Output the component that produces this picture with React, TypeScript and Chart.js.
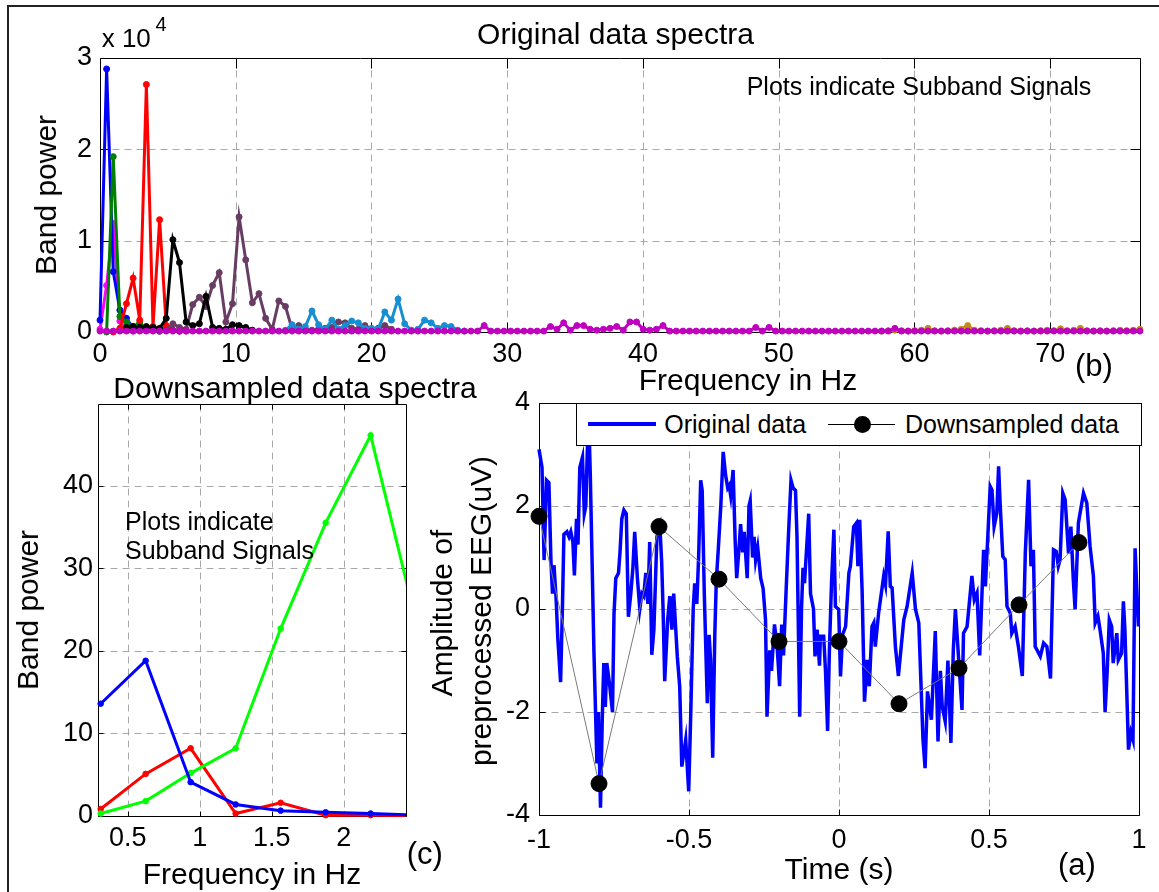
import React, { useEffect, useRef } from "react";
import { Chart, registerables } from "chart.js";

Chart.register(...registerables);

const FONT = "'Liberation Sans', Arial, Helvetica, sans-serif";
const PAGE_W = 1159;
const PAGE_H = 892;
const GRID_COLOR = "#a8a8a8";

// ---------------- (b) Original data spectra ----------------
const SPEC_BIN_HZ = 0.488;
const SPEC_BIN_COUNT = 158;
const SPEC_FREQ_HZ = Array.from({ length: SPEC_BIN_COUNT }, (_, k) => Math.round(k * SPEC_BIN_HZ * 1000) / 1000);
const SPEC_X_MAX = 76.62;
const SPEC_X_TICKS = [0, 10, 20, 30, 40, 50, 60, 70];
const SPEC_X_LABELS = ["0", "10", "20", "30", "40", "50", "60", "70"];
const SPEC_Y_MAX = 3;
const SPEC_Y_TICKS = [0, 1, 2, 3];
const SPEC_Y_LABELS = ["0", "1", "2", "3"];

// band power in units of 10^4, one value per frequency bin starting at the given bin index
const SUB_PINK_START = 0;
const SUB_PINK = [0.03, 0.51, 1.19, 0.12, 0.02, 0.01];
const SUB_BLUE_START = 0;
const SUB_BLUE = [0.13, 2.88, 0.66, 0.24, 0.15, 0.04, 0.03, 0.02, 0.02, 0.01, 0.03, 0.02, 0.01];
const SUB_GREEN_START = 1;
const SUB_GREEN = [0.0, 1.92, 0.17, 0.11, 0.06, 0.1, 0.03, 0.02, 0.01];
const SUB_RED_START = 2;
const SUB_RED = [0.0, 0.04, 0.31, 0.59, 0.13, 2.71, 0.06, 1.23, 0.07, 0.02, 0.01, 0.01];
const SUB_BLACK_START = 4;
const SUB_BLACK = [0.05, 0.06, 0.05, 0.06, 0.05, 0.04, 0.15, 1.01, 0.76, 0.11, 0.07, 0.09, 0.39, 0.05, 0.04, 0.03, 0.08, 0.07, 0.05, 0.02];
const SUB_PURPLE_START = 10;
const SUB_PURPLE = [
  0.02, 0.09, 0.05, 0.03, 0.3, 0.38, 0.28, 0.51, 0.65, 0.11,
  0.31, 1.26, 0.79, 0.32, 0.42, 0.15, 0.03, 0.34, 0.28, 0.03,
  0.07, 0.03, 0.02, 0.03, 0.04, 0.05, 0.11, 0.1, 0.04, 0.03,
  0.07, 0.03, 0.04, 0.07, 0.03,
];
const SUB_LIGHTBLUE_START = 28;
const SUB_LIGHTBLUE = [
  0.02, 0.08, 0.03, 0.06, 0.23, 0.08, 0.03, 0.13, 0.03, 0.07,
  0.12, 0.1, 0.04, 0.04, 0.03, 0.22, 0.13, 0.36, 0.09, 0.02,
  0.03, 0.13, 0.1, 0.04, 0.07, 0.06, 0.02, 0.01,
];
const SUB_ORANGE_START = 118;
const SUB_ORANGE = [
  0.01, 0.015, 0.02, 0.015, 0.01, 0.015, 0.02, 0.04, 0.015, 0.01,
  0.015, 0.02, 0.03, 0.07, 0.02, 0.015, 0.01, 0.015, 0.02, 0.04,
  0.015, 0.01, 0.015, 0.01, 0.015, 0.02, 0.015, 0.035, 0.015, 0.02,
  0.04, 0.015, 0.01, 0.015, 0.01, 0.015, 0.02, 0.015, 0.02, 0.03,
];
const SUB_MAGENTA_START = 0;
const SUB_MAGENTA = [
  0.01, 0.01, 0.01, 0.01, 0.01, 0.01, 0.01, 0.01, 0.01, 0.01, 0.01, 0.01, 0.01, 0.01, 0.01, 0.01, 0.01, 0.01, 0.01, 0.01,
  0.01, 0.01, 0.01, 0.01, 0.01, 0.01, 0.01, 0.01, 0.01, 0.01, 0.01, 0.01, 0.01, 0.01, 0.01, 0.01, 0.01, 0.01, 0.01, 0.01,
  0.01, 0.01, 0.01, 0.01, 0.01, 0.01, 0.01, 0.01, 0.01, 0.01, 0.01, 0.01, 0.01, 0.01, 0.01, 0.01, 0.01, 0.01, 0.07, 0.01,
  0.01, 0.01, 0.01, 0.01, 0.01, 0.01, 0.01, 0.01, 0.06, 0.03, 0.1, 0.02, 0.07, 0.07, 0.03, 0.02, 0.03, 0.04, 0.06, 0.02,
  0.11, 0.11, 0.03, 0.02, 0.03, 0.07, 0.01, 0.01, 0.01, 0.01, 0.01, 0.01, 0.01, 0.01, 0.01, 0.01, 0.01, 0.01, 0.01, 0.05,
  0.01, 0.05, 0.01, 0.01, 0.01, 0.01, 0.01, 0.01, 0.01, 0.01, 0.01, 0.01, 0.01, 0.01, 0.01, 0.01, 0.01, 0.01, 0.01, 0.01,
  0.04, 0.01, 0.01, 0.01, 0.01, 0.01, 0.01, 0.01, 0.01, 0.01, 0.01, 0.01, 0.01, 0.01, 0.01, 0.01, 0.01, 0.01, 0.01, 0.01,
  0.01, 0.01, 0.01, 0.01, 0.01, 0.01, 0.01, 0.01, 0.01, 0.01, 0.01, 0.01, 0.01, 0.01, 0.01, 0.01, 0.01, 0.01,
];

// ---------------- (c) Downsampled data spectra ----------------
const DS_FREQ_HZ = [0.3125, 0.625, 0.9375, 1.25, 1.5625, 1.875, 2.1875, 2.5];
const DS_BLUE = [13.6, 18.8, 4.1, 1.4, 0.65, 0.45, 0.3, 0.1];
const DS_GREEN = [0.3, 1.8, 5.2, 8.2, 22.7, 35.5, 46.1, 23.8];
const DS_RED = [0.85, 5.1, 8.2, 0.3, 1.6, 0.1, 0.1, 0.05];
const DS_X_MIN = 0.294;
const DS_X_MAX = 2.433;
const DS_X_TICKS = [0.5, 1, 1.5, 2];
const DS_X_LABELS = ["0.5", "1", "1.5", "2"];
const DS_Y_MAX = 49.9;
const DS_Y_TICKS = [0, 10, 20, 30, 40];
const DS_Y_LABELS = ["0", "10", "20", "30", "40"];

// ---------------- (a) time domain ----------------
const ORIG_TIME_S = [
  -1.0, -0.99, -0.983, -0.975, -0.967, -0.96, -0.955, -0.95, -0.943, -0.937,
  -0.928, -0.922, -0.917, -0.907, -0.9, -0.894, -0.887, -0.882, -0.875, -0.87,
  -0.864, -0.855, -0.849, -0.844, -0.835, -0.829, -0.824, -0.817, -0.812, -0.807,
  -0.802, -0.795, -0.789, -0.784, -0.779, -0.774, -0.764, -0.755, -0.75, -0.744,
  -0.735, -0.73, -0.724, -0.717, -0.709, -0.702, -0.694, -0.687, -0.681, -0.672,
  -0.664, -0.657, -0.651, -0.644, -0.637, -0.631, -0.624, -0.617, -0.607, -0.597,
  -0.591, -0.586, -0.581, -0.571, -0.564, -0.557, -0.551, -0.539, -0.531, -0.524,
  -0.511, -0.501, -0.494, -0.486, -0.481, -0.474, -0.468, -0.461, -0.456, -0.449,
  -0.439, -0.433, -0.428, -0.421, -0.414, -0.409, -0.403, -0.394, -0.386, -0.378,
  -0.371, -0.366, -0.361, -0.353, -0.346, -0.341, -0.333, -0.328, -0.321, -0.316,
  -0.306, -0.3, -0.296, -0.288, -0.283, -0.278, -0.271, -0.261, -0.253, -0.245,
  -0.24, -0.231, -0.225, -0.215, -0.206, -0.198, -0.191, -0.185, -0.176, -0.168,
  -0.16, -0.153, -0.145, -0.14, -0.131, -0.125, -0.12, -0.115, -0.101, -0.095,
  -0.085, -0.08, -0.073, -0.065, -0.062, -0.051, -0.045, -0.038, -0.032, -0.025,
  -0.017, -0.012, -0.001, 0.005, 0.012, 0.022, 0.033, 0.038, 0.049, 0.058,
  0.063, 0.069, 0.077, 0.085, 0.094, 0.101, 0.11, 0.116, 0.121, 0.132,
  0.149, 0.155, 0.164, 0.171, 0.177, 0.188, 0.198, 0.216, 0.227, 0.244,
  0.255, 0.266, 0.28, 0.287, 0.295, 0.308, 0.321, 0.33, 0.338, 0.344,
  0.354, 0.363, 0.373, 0.381, 0.388, 0.398, 0.41, 0.415, 0.427, 0.443,
  0.451, 0.46, 0.469, 0.482, 0.488, 0.504, 0.51, 0.517, 0.526, 0.532,
  0.537, 0.546, 0.554, 0.56, 0.571, 0.576, 0.587, 0.598, 0.611, 0.621,
  0.632, 0.64, 0.648, 0.654, 0.671, 0.682, 0.693, 0.705, 0.715, 0.724,
  0.731, 0.737, 0.746, 0.754, 0.765, 0.773, 0.781, 0.787, 0.798, 0.815,
  0.826, 0.837, 0.848, 0.854, 0.863, 0.87, 0.881, 0.887, 0.894, 0.901,
  0.909, 0.914, 0.926, 0.931, 0.942, 0.948, 0.953, 0.965, 0.973, 0.98,
  0.987, 0.998,
];
const ORIG_AMP_UV = [
  3.1, 2.75, 0.95, 2.5, 2.45, 0.9, 0.3, 0.85, 0.2, -0.6,
  -1.42, 0.0, 1.45, 1.5, 1.4, 1.5, 1.3, 0.65, 1.75, 1.25,
  2.75, 2.95, 1.85, 2.0, 3.9, 2.6, 1.2, -0.8, -1.9, -3.0,
  -2.0, -3.86, -2.1, -1.05, -1.9, -1.05, -1.5, -2.0, -0.1, 0.6,
  0.7, 1.1, 1.75, 1.92, 1.85, -0.15, 0.3, 0.8, 1.5, 0.6,
  0.0, 0.3, 0.25, 0.7, 0.1, 1.3, -0.89, -0.4, 1.4, 1.6,
  0.9, -0.1, -1.4, -0.2, 0.25, -0.4, 0.3, -0.92, -1.5, -3.06,
  -2.54, -3.54, -2.0, 0.0, 0.5, 0.1, 1.0, 2.5, 2.3, 0.3,
  -1.83, -0.5, -1.0, -2.89, -0.5, 0.55, 1.1, 2.0, 3.05, 2.6,
  2.35, 2.4, 2.2, 2.7, 1.3, 0.6, 1.2, 1.65, 1.1, 1.5,
  0.6, 2.0, 2.1, 1.0, 1.4, 0.95, 1.2, 0.6, 0.4, -0.2,
  -2.09, -0.8, -1.2, -0.3, -0.75, -1.5, -0.3, -0.9, 0.4, 1.5,
  2.5, 2.35, 2.3, 1.4, -2.09, 0.0, 0.8, 0.5, 1.85, 0.3,
  0.0, -0.92, -0.4, -1.1, -0.53, -0.53, -1.2, -2.37, -0.8, 0.5,
  1.54, 0.05, -0.01, -1.31, -0.5, -0.34, 0.7, 0.83, 1.6, 1.67,
  0.83, 1.73, 0.37, -1.8, -0.99, -1.5, -0.34, -0.27, -0.73, -0.08,
  0.64, 0.47, 1.51, 0.44, 0.41, -0.73, -1.3, -0.21, 0.05, 0.7,
  -0.01, -0.27, -2.54, -3.09, -1.6, -2.15, -0.43, -2.57, -1.2, -1.89,
  -2.18, -1.0, -2.6, -0.8, 0.0, -0.9, -1.96, -0.47, -0.34, 0.64,
  0.18, 0.31, -0.9, 1.15, 0.44, 2.38, 2.31, 1.6, 1.86, 2.77,
  2.06, 1.02, 0.96, 0.05, -0.08, -0.47, -0.34, -0.73, -1.3, 1.08,
  2.51, 0.83, 1.15, -0.73, -0.92, -0.66, -0.73, -1.35, 1.15, 1.12,
  0.83, 0.96, 2.25, 2.12, 1.08, 1.6, 0.57, -0.01, 1.67, 2.25,
  2.06, 1.21, 0.64, -0.27, -0.14, -0.4, -0.86, -2.0, -1.2, -0.21,
  -0.34, -1.05, -0.47, -0.99, -0.86, 0.15, -0.4, -2.73, -2.4, -2.54,
  1.18, -0.34,
];
const DOWN_TIME_S = [-1, -0.8, -0.6, -0.4, -0.2, 0, 0.2, 0.4, 0.6, 0.8];
const DOWN_AMP_UV = [1.8, -3.39, 1.6, 0.58, -0.63, -0.63, -1.84, -1.15, 0.08, 1.29];
const TD_X_TICKS = [-1, -0.5, 0, 0.5, 1];
const TD_X_LABELS = ["-1", "-0.5", "0", "0.5", "1"];
const TD_Y_TICKS = [-4, -2, 0, 2, 4];
const TD_Y_LABELS = ["-4", "-2", "0", "2", "4"];

// ---------------- layout (pixel boxes of the plot areas) ----------------
const AREA_B = { left: 100, top: 58, right: 1140, bottom: 332 };
const AREA_C = { left: 98, top: 404, right: 406, bottom: 816 };
const AREA_A = { left: 539, top: 403, right: 1139, bottom: 815 };

function decor(id: string, gx: number[], gy: number[], tx: number[], ty: number[], tickLen: number) {
  return {
    id,
    beforeDatasetsDraw(chart: any) {
      const { ctx, chartArea: a } = chart;
      const xs = chart.scales.x;
      const ys = chart.scales.y;
      const L = Math.round(a.left) + 0.5;
      const R = Math.round(a.right) + 0.5;
      const T = Math.round(a.top) + 0.5;
      const B = Math.round(a.bottom) + 0.5;
      ctx.save();
      ctx.lineWidth = 1;
      ctx.strokeStyle = GRID_COLOR;
      ctx.setLineDash([7, 5]);
      ctx.beginPath();
      gx.forEach((v) => {
        const p = Math.round(xs.getPixelForValue(v)) + 0.5;
        ctx.moveTo(p, T);
        ctx.lineTo(p, B);
      });
      gy.forEach((v) => {
        const p = Math.round(ys.getPixelForValue(v)) + 0.5;
        ctx.moveTo(L, p);
        ctx.lineTo(R, p);
      });
      ctx.stroke();
      ctx.setLineDash([]);
      ctx.strokeStyle = "#000";
      ctx.beginPath();
      ctx.rect(L, T, R - L, B - T);
      tx.forEach((v) => {
        const p = Math.round(xs.getPixelForValue(v)) + 0.5;
        ctx.moveTo(p, B);
        ctx.lineTo(p, B - tickLen);
        ctx.moveTo(p, T);
        ctx.lineTo(p, T + tickLen);
      });
      ty.forEach((v) => {
        const p = Math.round(ys.getPixelForValue(v)) + 0.5;
        ctx.moveTo(L, p);
        ctx.lineTo(L + tickLen, p);
        ctx.moveTo(R, p);
        ctx.lineTo(R - tickLen, p);
      });
      ctx.stroke();
      ctx.restore();
    },
  };
}

function makeChart(canvas: HTMLCanvasElement, o: any) {
  const tickFont = { family: FONT, size: 27, lineHeight: 1 };
  return new Chart(canvas, {
    type: "scatter",
    data: { datasets: o.datasets },
    options: {
      responsive: false,
      animation: false,
      devicePixelRatio: 1,
      events: [],
      layout: { padding: { left: 0, top: o.area.top, right: PAGE_W - o.area.right, bottom: 0 } },
      plugins: { legend: { display: false }, tooltip: { enabled: false }, title: { display: false } },
      scales: {
        x: {
          type: "linear",
          bounds: "data",
          min: o.xMin,
          max: o.xMax,
          afterBuildTicks: (s: any) => {
            s.ticks = o.xTicks.map((v: number) => ({ value: v }));
          },
          afterFit: (s: any) => {
            s.height = PAGE_H - o.area.bottom;
            s.paddingLeft = 0;
            s.paddingRight = 0;
          },
          ticks: {
            autoSkip: false,
            maxRotation: 0,
            minRotation: 0,
            padding: o.xPad,
            color: "#000",
            font: tickFont,
            callback: (_v: any, i: number) => o.xLabels[i],
          },
          grid: { display: false, drawTicks: false },
          border: { display: false },
        },
        y: {
          type: "linear",
          bounds: "data",
          min: o.yMin,
          max: o.yMax,
          afterBuildTicks: (s: any) => {
            s.ticks = o.yTicks.map((v: number) => ({ value: v }));
          },
          afterFit: (s: any) => {
            s.width = o.area.left;
            s.paddingTop = 0;
            s.paddingBottom = 0;
          },
          ticks: {
            autoSkip: false,
            padding: o.yPad,
            color: "#000",
            font: tickFont,
            callback: (_v: any, i: number) => o.yLabels[i],
          },
          grid: { display: false, drawTicks: false },
          border: { display: false },
        },
      },
    },
    plugins: [decor(o.id, o.gridX, o.gridY, o.xTicks, o.yTicks, o.tickLen)],
  } as any);
}

function specSeries(values: number[], start: number, color: string) {
  return {
    data: values.map((v, i) => ({ x: SPEC_FREQ_HZ[start + i], y: v })),
    showLine: true,
    borderColor: color,
    backgroundColor: color,
    borderWidth: 3,
    pointRadius: 3,
    pointBorderWidth: 1,
    pointBorderColor: color,
    pointBackgroundColor: color,
    clip: 8,
  };
}

function dsSeries(values: number[], color: string) {
  return {
    data: values.map((v, i) => ({ x: DS_FREQ_HZ[i], y: v })),
    showLine: true,
    borderColor: color,
    backgroundColor: color,
    borderWidth: 3,
    pointRadius: 2.8,
    pointBorderWidth: 1,
    pointBorderColor: color,
    pointBackgroundColor: color,
    clip: { left: 6, top: 0, right: 0, bottom: 6 },
  };
}

type TxtProps = { x: number; y: number; s: number; center?: boolean; rot?: boolean; children: any };
function Txt({ x, y, s, center, rot, children }: TxtProps) {
  const style: any = {
    position: "absolute",
    left: x,
    top: y,
    fontSize: s,
    lineHeight: s + "px",
    fontFamily: FONT,
    color: "#000",
    whiteSpace: "nowrap",
  };
  if (rot) style.transform = "translate(-50%,-50%) rotate(-90deg)";
  else if (center) style.transform = "translateX(-50%)";
  return <div style={style}>{children}</div>;
}

export default function App() {
  const refB = useRef<HTMLCanvasElement>(null);
  const refC = useRef<HTMLCanvasElement>(null);
  const refA = useRef<HTMLCanvasElement>(null);

  useEffect(() => {
    const charts: Chart[] = [];
    if (refB.current) {
      charts.push(
        makeChart(refB.current, {
          id: "decorB",
          area: AREA_B,
          xMin: 0,
          xMax: SPEC_X_MAX,
          yMin: 0,
          yMax: SPEC_Y_MAX,
          xTicks: SPEC_X_TICKS,
          xLabels: SPEC_X_LABELS,
          yTicks: SPEC_Y_TICKS,
          yLabels: SPEC_Y_LABELS,
          gridX: SPEC_X_TICKS.slice(1),
          gridY: [1, 2],
          tickLen: 10,
          xPad: 9,
          yPad: 8,
          datasets: [
            specSeries(SUB_MAGENTA, SUB_MAGENTA_START, "#bf00bf"),
            specSeries(SUB_ORANGE, SUB_ORANGE_START, "#bf8c14"),
            specSeries(SUB_LIGHTBLUE, SUB_LIGHTBLUE_START, "#178ed2"),
            specSeries(SUB_BLACK, SUB_BLACK_START, "#000000"),
            specSeries(SUB_PURPLE, SUB_PURPLE_START, "#683c63"),
            specSeries(SUB_RED, SUB_RED_START, "#ff0000"),
            specSeries(SUB_GREEN, SUB_GREEN_START, "#008000"),
            specSeries(SUB_BLUE, SUB_BLUE_START, "#0000ff"),
            specSeries(SUB_PINK, SUB_PINK_START, "#ff00ff"),
          ],
        })
      );
    }
    if (refC.current) {
      charts.push(
        makeChart(refC.current, {
          id: "decorC",
          area: AREA_C,
          xMin: DS_X_MIN,
          xMax: DS_X_MAX,
          yMin: 0,
          yMax: DS_Y_MAX,
          xTicks: DS_X_TICKS,
          xLabels: DS_X_LABELS,
          yTicks: DS_Y_TICKS,
          yLabels: DS_Y_LABELS,
          gridX: DS_X_TICKS,
          gridY: [10, 20, 30, 40],
          tickLen: 5,
          xPad: 9,
          yPad: 5,
          datasets: [dsSeries(DS_BLUE, "#0000ff"), dsSeries(DS_GREEN, "#00ff00"), dsSeries(DS_RED, "#ff0000")],
        })
      );
    }
    if (refA.current) {
      charts.push(
        makeChart(refA.current, {
          id: "decorA",
          area: AREA_A,
          xMin: -1,
          xMax: 1,
          yMin: -4,
          yMax: 4,
          xTicks: TD_X_TICKS,
          xLabels: TD_X_LABELS,
          yTicks: TD_Y_TICKS,
          yLabels: TD_Y_LABELS,
          gridX: [-0.5, 0, 0.5],
          gridY: [-2, 0, 2],
          tickLen: 6,
          xPad: 12,
          yPad: 9,
          datasets: [
            {
              data: DOWN_TIME_S.map((t, i) => ({ x: t, y: DOWN_AMP_UV[i] })),
              showLine: true,
              borderColor: "#7a7a7a",
              borderWidth: 1,
              pointRadius: 8,
              pointBorderWidth: 1,
              pointBorderColor: "#000",
              pointBackgroundColor: "#000",
              clip: 12,
            },
            {
              data: ORIG_TIME_S.map((t, i) => ({ x: t, y: ORIG_AMP_UV[i] })),
              showLine: true,
              borderColor: "#0000ff",
              borderWidth: 3.5,
              pointRadius: 0,
              clip: 12,
            },
          ],
        })
      );
    }
    return () => charts.forEach((c) => c.destroy());
  }, []);

  const canvasStyle: any = { position: "absolute", left: 0, top: 0 };

  return (
    <div style={{ position: "absolute", left: 0, top: 0, width: PAGE_W, height: PAGE_H, background: "#fff", overflow: "hidden" }}>
      <div style={{ position: "absolute", left: 7, top: 5, width: PAGE_W + 10, height: PAGE_H + 10, borderTop: "2px solid #222", borderLeft: "2px solid #222" }} />
      <canvas ref={refB} width={PAGE_W} height={PAGE_H} style={canvasStyle} />
      <canvas ref={refC} width={PAGE_W} height={PAGE_H} style={canvasStyle} />
      <canvas ref={refA} width={PAGE_W} height={PAGE_H} style={canvasStyle} />

      {/* (b) texts */}
      <Txt x={615.5} y={18.8} s={30} center>Original data spectra</Txt>
      <Txt x={101.7} y={24.9} s={26}>x 10</Txt>
      <Txt x={155.5} y={14.1} s={20}>4</Txt>
      <Txt x={746.7} y={74} s={25}>Plots indicate Subband Signals</Txt>
      <Txt x={45.8} y={195} s={30} rot>Band power</Txt>
      <Txt x={748} y={364.5} s={30} center>Frequency in Hz</Txt>
      <Txt x={1075} y={350} s={31}>(b)</Txt>

      {/* (c) texts */}
      <Txt x={295} y={372.8} s={30} center>Downsampled data spectra</Txt>
      <Txt x={125} y={509.4} s={25}>Plots indicate</Txt>
      <Txt x={125} y={538.4} s={25}>Subband Signals</Txt>
      <Txt x={27.8} y={610} s={30} rot>Band power</Txt>
      <Txt x={252} y={859.4} s={30} center>Frequency in Hz</Txt>
      <Txt x={406.7} y={838.1} s={31}>(c)</Txt>

      {/* (a) texts */}
      <Txt x={442} y={613} s={30} rot>Amplitude of</Txt>
      <Txt x={481} y={611} s={30} rot>preprocessed EEG(uV)</Txt>
      <Txt x={839} y={854.4} s={30} center>Time (s)</Txt>
      <Txt x={1058} y={849.4} s={31}>(a)</Txt>

      {/* (a) legend */}
      <div style={{ position: "absolute", left: 576, top: 403, width: 566, height: 43, boxSizing: "border-box", border: "1px solid #000", background: "#fff" }} />
      <div style={{ position: "absolute", left: 588, top: 422, width: 68, height: 4, background: "#0000ff" }} />
      <Txt x={664.3} y={411.7} s={25}>Original data</Txt>
      <div style={{ position: "absolute", left: 828, top: 424, width: 67, height: 1, background: "#000" }} />
      <div style={{ position: "absolute", left: 854, top: 416, width: 17, height: 17, borderRadius: "50%", background: "#000" }} />
      <Txt x={905} y={411.7} s={25}>Downsampled data</Txt>
    </div>
  );
}
